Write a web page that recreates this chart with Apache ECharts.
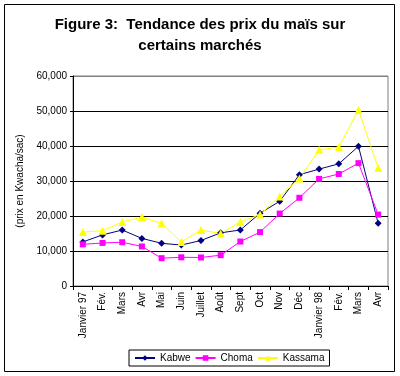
<!DOCTYPE html>
<html>
<head>
<meta charset="utf-8">
<script src="https://cdn.jsdelivr.net/npm/echarts@6/dist/echarts.min.js"></script>
<style>
  html, body { margin: 0; padding: 0; background: #fff; }
  #chart { width: 400px; height: 376px; }
</style>
</head>
<body>
<div id="chart"></div>
<script>
const mois = ['Janvier 97', 'Fév.', 'Mars', 'Avr', 'Mai', 'Juin', 'Juillet', 'Août', 'Sept', 'Oct', 'Nov', 'Déc', 'Janvier 98', 'Fév.', 'Mars', 'Avr'];
const kabwe = [12600, 14600, 16000, 13600, 12200, 11700, 13000, 15200, 16000, 20800, 24200, 31800, 33400, 34900, 39900, 17900];
const choma = [11900, 12300, 12500, 11300, 7950, 8200, 8150, 8800, 12700, 15400, 20700, 25200, 30600, 32000, 35100, 20400];
const kassama = [15400, 15800, 18300, 19700, 17900, 12600, 16000, 15000, 18300, 20400, 25600, 30700, 38900, 39700, 50300, 33700];

const font = '"Liberation Sans", Arial, sans-serif';
let myChart = echarts.init(document.getElementById('chart'));
myChart.setOption({
  animation: false,
  textStyle: { fontFamily: font },
  title: {
    text: 'Figure 3:  Tendance des prix du maïs sur\ncertains marchés',
    left: 'center',
    top: 9,
    textStyle: { fontSize: 15, fontWeight: 'bold', color: '#000', lineHeight: 21, fontFamily: font }
  },
  graphic: [{
    type: 'rect',
    shape: { x: 4.5, y: 4.5, width: 390, height: 367 },
    style: { fill: 'none', stroke: '#000', lineWidth: 1 },
    z: -1
  }],
  legend: {
    bottom: 10,
    left: 129,
    itemWidth: 20,
    itemHeight: 7,
    itemGap: 4,
    padding: [3, 5],
    borderColor: '#000',
    borderWidth: 1,
    textStyle: { fontSize: 10, color: '#000' },
    data: ['Kabwe', 'Choma', 'Kassama']
  },
  grid: {
    left: 73, right: 12, top: 76, bottom: 90,
    show: true, borderColor: '#808080', borderWidth: 1
  },
  xAxis: {
    type: 'category',
    data: mois,
    boundaryGap: true,
    axisLine: { lineStyle: { color: '#000' } },
    axisTick: { show: true, length: 4, lineStyle: { color: '#000' } },
    axisLabel: { rotate: 90, interval: 0, fontSize: 10, color: '#000', margin: 6 }
  },
  yAxis: {
    type: 'value',
    min: 0, max: 60000, interval: 10000,
    name: '(prix en Kwacha/sac)',
    nameLocation: 'middle',
    nameGap: 48,
    nameTextStyle: { fontSize: 10, color: '#000' },
    axisLine: { show: true, lineStyle: { color: '#000' } },
    axisTick: { show: true, length: 3, lineStyle: { color: '#000' } },
    axisLabel: {
      fontSize: 10, color: '#000', margin: 6,
      formatter: v => v.toLocaleString('en-US')
    },
    splitLine: { lineStyle: { color: ['#000', '#000', '#000', '#000', '#000', '#000', '#808080'], width: 1 } }
  },
  series: [
    {
      name: 'Kabwe', type: 'line', data: kabwe,
      symbol: 'diamond', symbolSize: 7,
      itemStyle: { color: '#000080' }, lineStyle: { color: '#000080', width: 1 }
    },
    {
      name: 'Choma', type: 'line', data: choma,
      symbol: 'rect', symbolSize: 6,
      itemStyle: { color: '#FF00FF' }, lineStyle: { color: '#FF00FF', width: 1 }
    },
    {
      name: 'Kassama', type: 'line', data: kassama,
      symbol: 'triangle', symbolSize: 8,
      itemStyle: { color: '#FFFF00' }, lineStyle: { color: '#FFFF00', width: 1 }
    }
  ]
})
</script>
</body>
</html>
